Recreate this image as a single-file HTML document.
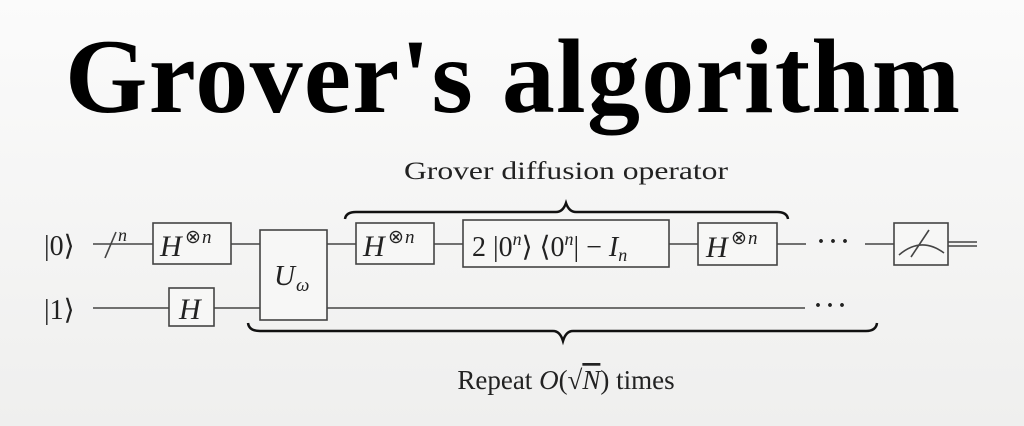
<!DOCTYPE html>
<html><head><meta charset="utf-8"><style>
html,body{margin:0;padding:0;background:#f5f5f4;}
svg{display:block;}
.m{font-family:"Liberation Serif",serif;font-style:italic;}
.r{font-family:"Liberation Serif",serif;}
</style></head><body>
<svg width="1024" height="426" viewBox="0 0 1024 426" xmlns="http://www.w3.org/2000/svg">
<defs><linearGradient id="g" x1="0" y1="0" x2="0" y2="1"><stop offset="0" stop-color="#fbfbfb"/><stop offset="1" stop-color="#efefee"/></linearGradient></defs>
<rect width="1024" height="426" fill="url(#g)"/>
<text x="65" y="112" font-family="Liberation Serif,serif" font-weight="bold" font-size="106" textLength="895" lengthAdjust="spacing" fill="#000">Grover's algorithm</text>

<text x="566" y="179" class="r" font-size="25" text-anchor="middle" fill="#222" textLength="324" lengthAdjust="spacingAndGlyphs">Grover diffusion operator</text>

<path d="M345 219 Q346 212 356 212 L556 212 Q563 212 566 203 Q569 212 576 212 L777 212 Q787 212 788 219" fill="none" stroke="#111" stroke-width="2.5"/>
<path d="M248 323 Q249 331 260 331 L553 331 Q560 331 563 341 Q566 331 573 331 L866 331 Q876 331 877 323" fill="none" stroke="#111" stroke-width="2.5"/>

<g stroke="#444" stroke-width="1.6" fill="none">
<line x1="93" y1="244" x2="153" y2="244"/>
<line x1="231" y1="244" x2="260" y2="244"/>
<line x1="327" y1="244" x2="356" y2="244"/>
<line x1="434" y1="244" x2="463" y2="244"/>
<line x1="669" y1="244" x2="698" y2="244"/>
<line x1="777" y1="244" x2="806" y2="244"/>
<line x1="865" y1="244" x2="894" y2="244"/>
<line x1="105" y1="258" x2="116" y2="232"/>
<line x1="93" y1="308" x2="169" y2="308"/>
<line x1="214" y1="308" x2="260" y2="308"/>
<line x1="327" y1="308" x2="805" y2="308"/>
<rect x="153" y="223" width="78" height="41" fill="#f7f7f6"/>
<rect x="260" y="230" width="67" height="90" fill="#f7f7f6"/>
<rect x="356" y="223" width="78" height="41" fill="#f7f7f6"/>
<rect x="463" y="220" width="206" height="47" fill="#f7f7f6"/>
<rect x="698" y="223" width="79" height="42" fill="#f7f7f6"/>
<rect x="169" y="288" width="45" height="38" fill="#f7f7f6"/>
<rect x="894" y="223" width="54" height="42" fill="#f7f7f6"/>
<path d="M899 255 Q921 236 944 253"/>
<line x1="911" y1="257" x2="929" y2="230"/>
<line x1="948" y1="242" x2="977" y2="242"/>
<line x1="948" y1="246" x2="977" y2="246"/>
</g>

<g fill="#222">
<text x="44" y="255" class="r" font-size="28">|0⟩</text>
<text x="44" y="319" class="r" font-size="28">|1⟩</text>
<text x="118" y="241" class="m" font-size="18">n</text>
<text x="160" y="256" class="m" font-size="30">H</text><text x="185" y="243" class="r" font-size="19">⊗</text><text x="202" y="243" class="m" font-size="19">n</text>
<text x="363" y="256" class="m" font-size="30">H</text><text x="388" y="243" class="r" font-size="19">⊗</text><text x="405" y="243" class="m" font-size="19">n</text>
<text x="706" y="257" class="m" font-size="30">H</text><text x="731" y="244" class="r" font-size="19">⊗</text><text x="748" y="244" class="m" font-size="19">n</text>
<text x="179" y="319" class="m" font-size="30">H</text>
<text x="274" y="285" class="m" font-size="29">U</text><text x="296" y="291" class="m" font-size="19">ω</text>
<text x="472" y="256" class="r" font-size="28">2 |0<tspan class="m" font-size="18" dy="-11">n</tspan><tspan dy="11">⟩ ⟨0</tspan><tspan class="m" font-size="18" dy="-11">n</tspan><tspan dy="11">| − </tspan><tspan class="m">I</tspan><tspan class="m" font-size="18" dy="5">n</tspan></text>
<text x="817" y="249" class="r" font-size="24" font-weight="bold" letter-spacing="4">···</text>
<text x="814" y="313" class="r" font-size="24" font-weight="bold" letter-spacing="4">···</text>
<text x="566" y="389" class="r" font-size="27" text-anchor="middle">Repeat <tspan class="m">O</tspan>(√<tspan class="m" text-decoration="overline">N</tspan>) times</text>
</g>
</svg>
</body></html>
